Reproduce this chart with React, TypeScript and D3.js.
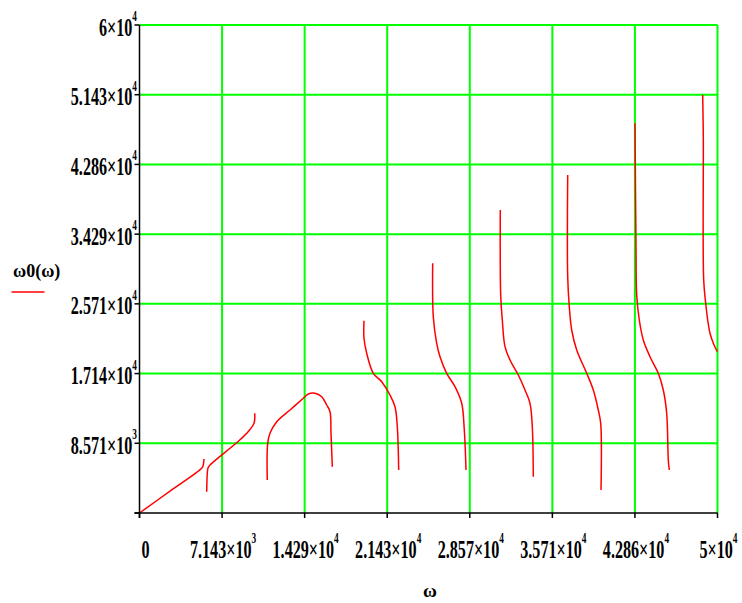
import React from "react";
import * as d3 from "d3";

// Data (x = ω, y = ω0(ω))
const seg1: [number, number][] = [[0, 0], [2700, 2750], [5380, 5500], [5500, 5800], [5580, 6640]];
const seg2: [number, number][] = [[5813, 2619], [5865, 4881], [5926, 5533], [6099, 5902], [8348, 8571], [9273, 9799], [9905, 11029], [9965, 12258]];
const seg3: [number, number][] = [[11055, 4057], [11090, 8570], [11289, 9799], [11869, 11225], [13019, 12664], [14170, 14102], [14602, 14631], [15182, 14717], [15761, 14299], [16194, 13279], [16479, 12455], [16566, 9799], [16678, 5693]];
const seg4: [number, number][] = [[19420, 23643], [19420, 21480], [19654, 19635], [20225, 17176], [20951, 16143], [21669, 14508], [22102, 13070], [22301, 10611], [22422, 5287]];
const seg5: [number, number][] = [[25363, 30701], [25415, 24135], [25709, 20865], [25995, 19218], [26574, 17176], [27292, 15529], [27872, 13488], [28097, 10205], [28244, 5287]];
const seg6: [number, number][] = [[31211, 37254], [31246, 26803], [31384, 23729], [31618, 20447], [32050, 18811], [32768, 16967], [33348, 15123], [33780, 13488], [33979, 10611], [34066, 4463]];
const seg7: [number, number][] = [[37042, 41557], [37042, 29053], [37180, 25365], [37387, 22500], [37820, 20041], [38685, 17176], [39256, 15123], [39688, 12664], [39896, 11029], [39922, 2828]];
const seg8: [number, number][] = [[42863, 47913], [42950, 32742], [43010, 26803], [43235, 23729], [43581, 21270], [44160, 19217], [44878, 17176], [45311, 15123], [45605, 12258], [45744, 6516], [45830, 5287]];
const seg9: [number, number][] = [[48719, 51393], [48771, 46266], [48806, 28647], [48979, 25783], [49152, 23729], [49351, 22094], [49637, 20865], [49983, 19832]];
const segments = [seg1, seg2, seg3, seg4, seg5, seg6, seg7, seg8, seg9];

const xTicks = [0, 1, 2, 3, 4, 5, 6, 7].map((k) => (50000 * k) / 7);
const xTickMantissa = ["0", "7.143", "1.429", "2.143", "2.857", "3.571", "4.286", "5"];
const xTickExp = ["", "3", "4", "4", "4", "4", "4", "4"];
const yTicks = [0, 1, 2, 3, 4, 5, 6, 7].map((k) => (60000 * k) / 7);
const yTickMantissa = ["", "8.571", "1.714", "2.571", "3.429", "4.286", "5.143", "6"];
const yTickExp = ["", "3", "4", "4", "4", "4", "4", "4"];

const W = 742;
const H = 603;
const FONT = "'Liberation Serif', 'Times New Roman', serif";

export default function App() {
  const x = d3.scaleLinear().domain([0, 50000]).range([139.5, 717.5]);
  const y = d3.scaleLinear().domain([0, 60000]).range([513, 25]);
  const line = d3
    .line<[number, number]>()
    .x((d) => x(d[0]))
    .y((d) => y(d[1]))
    .curve(d3.curveCatmullRom.alpha(0.5));
  const sx = 0.62;
  return (
    <svg
      width={W}
      height={H}
      style={{ position: "absolute", left: 0, top: 0, background: "#fff" }}
    >
      {/* grid */}
      {xTicks.slice(1).map((t, i) => (
        <line key={"gx" + i} x1={x(t)} x2={x(t)} y1={y(0)} y2={y(60000)} stroke="#00ff00" strokeWidth={2} />
      ))}
      {yTicks.slice(1).map((t, i) => (
        <line key={"gy" + i} x1={x(0)} x2={x(50000)} y1={y(t)} y2={y(t)} stroke="#00ff00" strokeWidth={2} />
      ))}
      {/* curves */}
      {segments.map((s, i) => (
        <path key={"s" + i} d={line(s) || ""} fill="none" stroke="#ff0000" strokeWidth={1.5} />
      ))}
      {/* axes */}
      <line x1={x(0) - 5} x2={x(50000)} y1={y(0)} y2={y(0)} stroke="#000" strokeWidth={1.5} />
      <line x1={x(0)} x2={x(0)} y1={y(0) + 5} y2={y(60000)} stroke="#000" strokeWidth={1.5} />
      {xTicks.map((t, i) => (
        <line key={"tx" + i} x1={x(t)} x2={x(t)} y1={y(0)} y2={y(0) + 5} stroke="#000" strokeWidth={1.5} />
      ))}
      {yTicks.map((t, i) => (
        <line key={"ty" + i} x1={x(0) - 5} x2={x(0)} y1={y(t)} y2={y(t)} stroke="#000" strokeWidth={1.5} />
      ))}
      {/* y tick labels */}
      {yTicks.map((t, i) =>
        yTickMantissa[i] ? (
          <text
            key={"ly" + i}
            transform={`translate(137,${y(t) + 10.5}) scale(${sx},1)`}
            textAnchor="end"
            fontFamily={FONT}
            fontWeight="bold"
            fontSize={26}
            fill="#000"
          >
            {yTickMantissa[i] + "×10"}
            <tspan dy={-14.5} fontSize={15}>{yTickExp[i]}</tspan>
          </text>
        ) : null
      )}
      {/* x tick labels */}
      {xTicks.map((t, i) => (
        <text
          key={"lx" + i}
          transform={`translate(${x(t) + (i === 0 ? 6 : 1)},558) scale(${sx},1)`}
          textAnchor="middle"
          fontFamily={FONT}
          fontWeight="bold"
          fontSize={26}
          fill="#000"
        >
          {xTickExp[i] ? xTickMantissa[i] + "×10" : xTickMantissa[i]}
          {xTickExp[i] ? (
            <tspan dy={-15} fontSize={15}>{xTickExp[i]}</tspan>
          ) : null}
        </text>
      ))}
      {/* axis label */}
      <text x={430} y={597} textAnchor="middle" fontFamily={FONT} fontWeight="bold" fontSize={19} fill="#000">
        ω
      </text>
      {/* legend */}
      <text x={13} y={277} fontFamily={FONT} fontWeight="bold" fontSize={18} fill="#000">
        ω0(ω)
      </text>
      <line x1={11.5} x2={44.5} y1={292} y2={292} stroke="#ff0000" strokeWidth={1.5} />
    </svg>
  );
}
